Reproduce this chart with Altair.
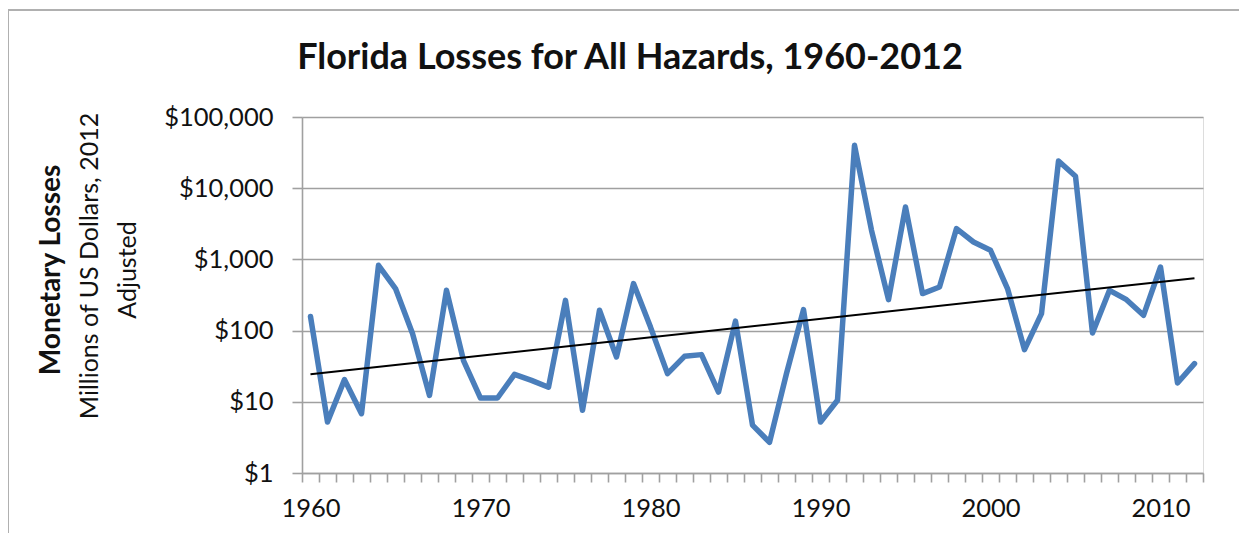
import altair as alt
import pandas as pd

years = list(range(1960, 2013))
losses = [158, 5.2, 20.5, 6.8, 826, 389, 91, 12.3, 368, 38,
          11.3, 11.3, 24.3, 20, 16, 266, 7.6, 193, 42.6, 457,
          112, 24.9, 43.5, 46, 13.7, 136, 4.7, 2.7, 25, 197,
          5.2, 10.5, 40000, 2560, 272, 5450, 331, 409, 2710, 1755,
          1342, 389, 54, 173, 24100, 14700, 92.5, 368, 272, 164,
          782, 18.4, 34.4]
y_ticks = [1, 10, 100, 1000, 10000, 100000]
title_text = "Florida Losses for All Hazards, 1960-2012"
ytitle_bold = "Monetary Losses"
ytitle_lines = ["Millions of US Dollars, 2012", "Adjusted"]

df = pd.DataFrame({"year": years, "loss": losses})

FONT = "Lato"
GRID = "#a0a0a0"
W, H = 901, 356

x_enc = alt.X(
    "year:O",
    bandPosition=0.5,
    scale=alt.Scale(type="band", paddingInner=0, paddingOuter=0),
    axis=alt.Axis(
        title=None,
        tickBand="extent",
        labelExpr="datum.value % 10 == 0 ? datum.label : ''",
        labelOverlap=False,
        labelAngle=0,
        tickSize=9,
        tickColor=GRID,
        tickWidth=1.6,
        domainColor=GRID,
        domainWidth=1.6,
        labelFont=FONT,
        labelFontSize=25.5,
        labelColor="#111111",
        labelPadding=14,
        grid=False,
    ),
)
y_enc = alt.Y(
    "loss:Q",
    scale=alt.Scale(type="log", domain=[1, 100000], nice=False),
    axis=alt.Axis(
        title=None,
        values=y_ticks,
        labelExpr="'$' + format(datum.value, ',')",
        tickSize=10,
        tickColor=GRID,
        tickWidth=1.6,
        domainColor=GRID,
        domainWidth=1.6,
        grid=True,
        gridColor=GRID,
        gridWidth=1.6,
        labelFont=FONT,
        labelFontSize=25.5,
        labelColor="#111111",
        labelPadding=19,
    ),
)

line = alt.Chart(df).mark_line(
    color="#4a7ebb", strokeWidth=5.5, strokeJoin="round", strokeCap="round"
).encode(x=x_enc, y=y_enc)

trend = alt.Chart(df).transform_calculate(
    logv="log(datum.loss) / LN10"
).transform_regression(
    "year", "logv", method="linear", extent=[1960, 2012]
).transform_calculate(
    loss="pow(10, datum.logv)"
).mark_line(color="black", strokeWidth=2).encode(
    x=alt.X("year:O", bandPosition=0.5), y="loss:Q"
)

blank = alt.Data(values=[{}])
border_left = alt.Chart(blank).mark_rule(color="#b0b0b0", strokeWidth=2).encode(
    x=alt.value(-294), y=alt.value(-107), y2=alt.value(460)
)
border_top = alt.Chart(blank).mark_rule(color="#b0b0b0", strokeWidth=2).encode(
    x=alt.value(-294), x2=alt.value(960), y=alt.value(-107)
)
title = alt.Chart(blank).mark_text(
    font=FONT, fontSize=36, fontWeight="bold", color="#111111",
    align="center", baseline="alphabetic"
).encode(x=alt.value(328), y=alt.value(-48), text=alt.value(title_text))
t1 = alt.Chart(blank).mark_text(
    angle=270, font=FONT, fontSize=28, fontWeight="bold", color="#111111",
    align="center", baseline="middle"
).encode(x=alt.value(-250), y=alt.value(153), text=alt.value(ytitle_bold))
t2 = alt.Chart(blank).mark_text(
    angle=270, font=FONT, fontSize=25, color="#111111",
    align="center", baseline="middle"
).encode(x=alt.value(-212), y=alt.value(149), text=alt.value(ytitle_lines[0]))
t3 = alt.Chart(blank).mark_text(
    angle=270, font=FONT, fontSize=25, color="#111111",
    align="center", baseline="middle"
).encode(x=alt.value(-174), y=alt.value(153), text=alt.value(ytitle_lines[1]))

chart = alt.layer(line, trend, border_left, border_top, title, t1, t2, t3).properties(
    width=W,
    height=H,
    autosize=alt.AutoSizeParams(type="none"),
    padding={"left": 294, "top": 109, "right": 36, "bottom": 60},
).configure_view(stroke=None).configure(background="white")

chart.save("out.html", embed_options={"renderer": "svg", "actions": False})
